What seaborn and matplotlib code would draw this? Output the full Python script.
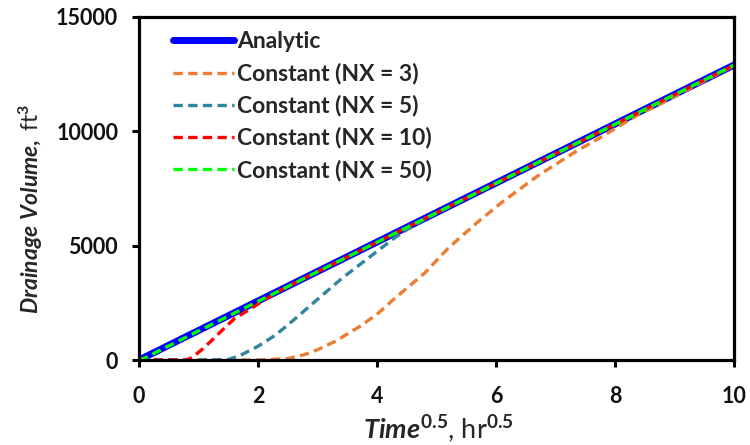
import matplotlib
matplotlib.use("Agg")
import matplotlib.pyplot as plt
import seaborn as sns
import numpy as np
import pandas as pd

# ---- data ----
x_analytic = [0, 1, 2, 3, 4, 5, 6, 7, 8, 9, 10]
y_analytic = [0, 1290, 2580, 3870, 5160, 6450, 7740, 9030, 10320, 11610, 12900]

x_nx3 = [0, 1, 2, 2.5, 2.8, 3.0, 3.3, 3.7, 4.0, 4.3, 4.8, 5.2, 5.7, 6.1, 6.7, 7.3, 7.8, 8.4, 8.8, 9.2, 10]
y_nx3 = [0, 0, 0, 60, 250, 450, 820, 1450, 2000, 2700, 3800, 4900, 6050, 6900, 8050, 9050, 9800, 10750, 11250, 11800, 12870]

x_nx5 = [0, 1, 1.5, 1.7, 2.0, 2.3, 2.6, 3.0, 3.4, 3.9, 4.3, 4.6, 5, 6, 7, 8, 9, 10]
y_nx5 = [0, 0, 20, 200, 600, 1100, 1750, 2650, 3550, 4550, 5350, 5870, 6420, 7720, 9010, 10300, 11600, 12890]

x_nx10 = [0, 0.8, 0.9, 1.05, 1.2, 1.35, 1.6, 1.9, 2.1, 2.4, 3, 4, 5, 6, 7, 8, 9, 10]
y_nx10 = [0, 0, 120, 440, 800, 1180, 1800, 2280, 2620, 3080, 3860, 5150, 6440, 7730, 9020, 10310, 11600, 12890]

x_nx50 = [0, 0.1, 1, 2, 3, 4, 5, 6, 7, 8, 9, 10]
y_nx50 = [0, 90, 1270, 2560, 3860, 5150, 6440, 7730, 9020, 10310, 11600, 12890]

labels = ["Analytic", "Constant (NX = 3)", "Constant (NX = 5)",
          "Constant (NX = 10)", "Constant (NX = 50)"]
colors = ["#0000FF", "#ED7D31", "#31859C", "#FF0000", "#00FF00"]

x_ticks = [0, 2, 4, 6, 8, 10]
y_ticks = [0, 5000, 10000, 15000]

# ---- style ----
sns.set_theme(style="white")
plt.rcParams["font.family"] = ["Lato", "DejaVu Sans"]
plt.rcParams["font.weight"] = "bold"
plt.rcParams["mathtext.fontset"] = "custom"
plt.rcParams["mathtext.rm"] = "Lato:bold"
plt.rcParams["mathtext.it"] = "Lato:italic:bold"
plt.rcParams["mathtext.bf"] = "Lato:bold"

fig = plt.figure(figsize=(7.5, 4.45), dpi=100)
ax = fig.add_axes([0.1853, 0.191, 0.7934, 0.7708])

series = [(x_analytic, y_analytic), (x_nx3, y_nx3), (x_nx5, y_nx5),
          (x_nx10, y_nx10), (x_nx50, y_nx50)]
dash = (0, (2.8, 1.6))
for i, ((xs, ys), lab, col) in enumerate(zip(series, labels, colors)):
    df = pd.DataFrame({"x": xs, "y": ys})
    if i == 0:
        sns.lineplot(data=df, x="x", y="y", ax=ax, color=col, linewidth=5.0,
                     label=lab, solid_capstyle="round", sort=False, estimator=None)
    else:
        sns.lineplot(data=df, x="x", y="y", ax=ax, color=col, linewidth=2.4,
                     linestyle=dash, label=lab, sort=False, estimator=None)

ax.set_xlim(0, 10)
ax.set_ylim(0, 15000)
ax.set_xticks(x_ticks)
ax.set_yticks(y_ticks)
ax.set_xticklabels([str(v) for v in x_ticks])
ax.set_yticklabels([str(v) for v in y_ticks])

for sp in ax.spines.values():
    sp.set_linewidth(2.3)
    sp.set_color("black")

ax.tick_params(axis="both", which="major", direction="out", length=5,
               width=2.2, color="black", labelsize=15.5, labelcolor="#111111",
               bottom=True, left=True, top=False, right=False)
ax.tick_params(axis="y", pad=10)
ax.tick_params(axis="x", pad=13.5)

ax.set_xlabel(r"$\mathit{Time}^{\mathit{0.5}}$, hr$^{0.5}$", fontsize=19.5)
ax.set_ylabel(r"$\mathit{Drainage\ Volume,}$ ft$^{3}$", fontsize=16.5)
ax.xaxis.set_label_coords(0.5025, -0.20)
ax.xaxis.label.set_va("center")
ax.yaxis.set_label_coords(-0.182, 0.44)
ax.yaxis.label.set_va("center")

leg = ax.legend(loc="upper left", bbox_to_anchor=(0.057, 0.958), frameon=False,
                fontsize=16.5, handlelength=2.65, handletextpad=0.15,
                labelspacing=0.455, borderaxespad=0, borderpad=0)

fig.savefig("out.png", dpi=100)
